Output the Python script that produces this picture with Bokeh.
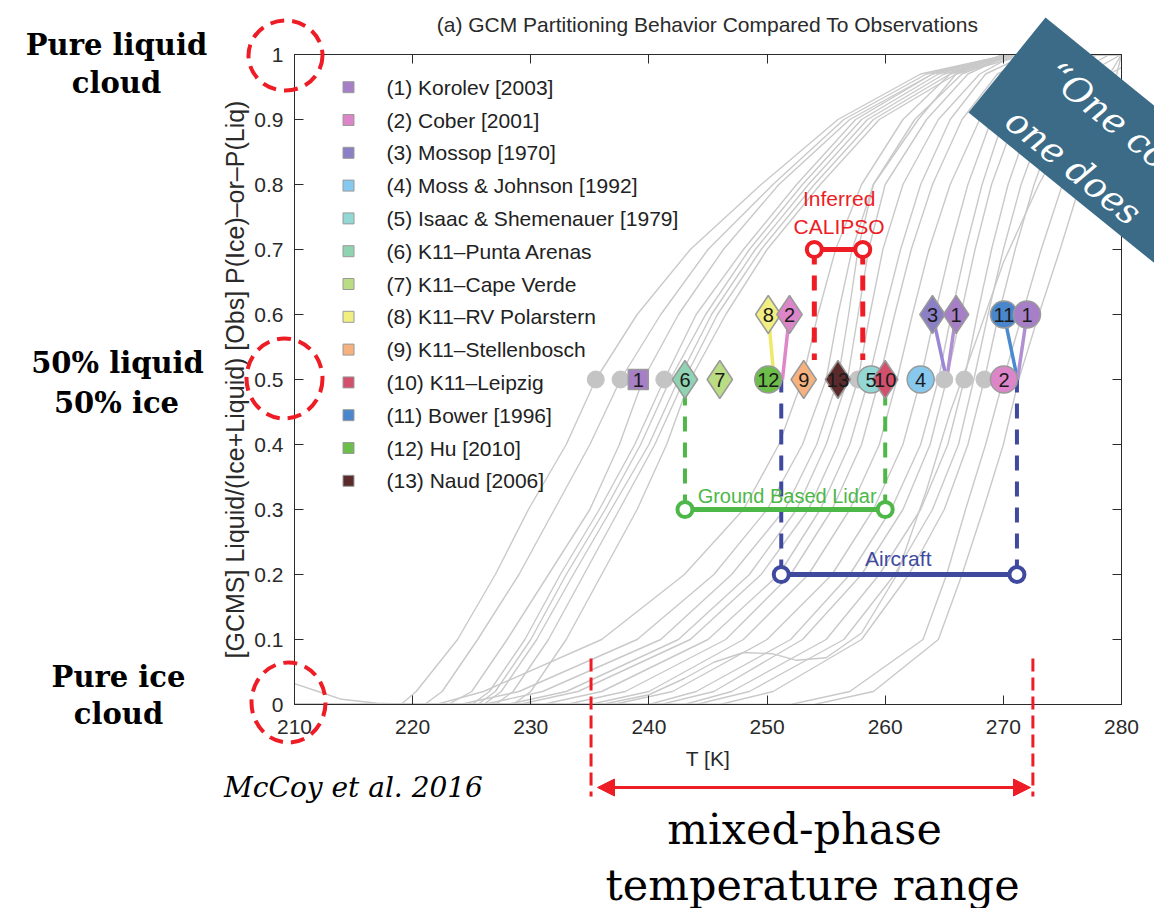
import numpy as np
from bokeh.plotting import figure
from bokeh.layouts import column
from bokeh.models import (Range1d, LinearAxis, FixedTicker, Arrow, NormalHead, CustomJSTickFormatter)
from bokeh.core.properties import value
from bokeh.embed import file_html
from bokeh.resources import INLINE

# ---------------------------------------------------------------- data
TITLE = "(a) GCM Partitioning Behavior Compared To Observations"
X_LABEL = "T [K]"
Y_LABEL = "[GCMS] Liquid/(Ice+Liquid) [Obs] P(Ice)\u2013or\u2013P(Liq)"
X_TICKS = [210, 220, 230, 240, 250, 260, 270, 280]
Y_TICKS = [0, 0.1, 0.2, 0.3, 0.4, 0.5, 0.6, 0.7, 0.8, 0.9, 1]
Y_TICK_LABELS = ["0", "0.1", "0.2", "0.3", "0.4", "0.5", "0.6", "0.7", "0.8", "0.9", "1"]

# GCM curves: temperature (K) at which each model reaches each liquid fraction level
CURVE_LEVELS = [0, 0.02, 0.1, 0.2, 0.3, 0.4, 0.5, 0.6, 0.7, 0.8, 0.9, 0.97, 1.0]
GCM_CURVE_T = [
    [219.0, 220.3, 223.8, 227.0, 229.8, 233.0, 235.5, 239.0, 243.5, 249.5, 256.0, 263.0, 270.5],
    [221.0, 222.5, 225.5, 229.0, 232.0, 235.0, 237.6, 241.0, 245.0, 250.5, 256.5, 263.5, 270.5],
    [223.0, 225.0, 228.0, 231.5, 235.0, 237.5, 239.5, 242.5, 246.3, 251.0, 257.0, 264.0, 270.5],
    [225.0, 226.5, 229.5, 232.5, 235.8, 238.8, 241.3, 244.0, 248.0, 252.5, 257.5, 264.0, 270.5],
    [225.5, 227.0, 230.0, 233.0, 236.3, 239.3, 241.8, 244.8, 248.5, 253.0, 258.0, 264.5, 271.0],
    [226.0, 227.5, 230.5, 233.6, 236.8, 240.0, 242.5, 245.3, 249.0, 253.5, 258.5, 265.0, 271.0],
    [227.0, 228.5, 231.5, 234.5, 237.5, 240.5, 243.0, 245.8, 249.5, 254.0, 259.0, 265.5, 271.5],
    [228.5, 230.0, 233.0, 236.0, 239.0, 241.5, 243.5, 246.5, 250.0, 254.5, 259.5, 266.0, 272.0],
    [222.0, 226.0, 236.0, 243.0, 248.0, 251.0, 253.0, 254.3, 255.8, 258.0, 261.5, 265.5, 270.0],
    [224.0, 229.0, 239.0, 245.5, 250.0, 253.0, 255.0, 256.0, 257.2, 259.0, 262.5, 266.5, 270.5],
    [226.0, 231.0, 241.0, 247.0, 251.5, 254.2, 256.0, 256.9, 257.7, 259.0, 262.8, 266.0, 270.0],
    [228.0, 233.0, 242.5, 248.5, 252.5, 255.0, 256.8, 257.7, 258.6, 260.0, 263.5, 267.0, 270.5],
    [229.0, 234.0, 243.5, 249.5, 253.5, 256.0, 257.7, 258.7, 259.8, 261.5, 264.5, 268.0, 271.0],
    [231.0, 236.0, 245.0, 251.0, 254.5, 257.0, 258.6, 259.9, 261.3, 263.0, 265.5, 268.5, 272.0],
    [233.0, 238.0, 246.5, 252.0, 255.5, 258.0, 259.5, 260.8, 262.2, 264.0, 266.5, 269.5, 273.0],
    [235.0, 240.0, 248.0, 253.5, 257.0, 259.5, 261.0, 262.3, 263.7, 265.5, 268.0, 270.8, 274.0],
    [237.0, 242.0, 250.0, 255.5, 259.0, 261.5, 263.0, 264.2, 265.5, 267.0, 269.0, 271.5, 275.0],
    [240.0, 244.0, 252.0, 257.0, 260.5, 263.0, 264.5, 265.6, 266.8, 268.2, 270.0, 272.5, 276.0],
    [241.0, 245.5, 253.0, 258.0, 261.5, 263.8, 265.2, 266.4, 267.6, 269.0, 271.0, 273.5, 277.0],
    [243.0, 247.0, 255.0, 259.5, 263.0, 265.3, 266.7, 267.8, 269.0, 270.4, 272.3, 274.8, 278.0],
    [244.0, 248.5, 256.5, 260.8, 264.0, 266.2, 267.5, 268.7, 270.0, 271.5, 273.5, 276.0, 279.0],
    [246.0, 250.5, 258.0, 262.0, 265.0, 267.0, 268.4, 269.6, 271.0, 272.6, 274.6, 277.0, 280.0],
    [252.0, 257.0, 263.2, 265.2, 266.8, 268.5, 270.0, 271.6, 273.2, 275.0, 277.2, 279.0, 280.0],
    [254.0, 259.0, 264.5, 266.5, 268.3, 270.0, 271.3, 273.0, 274.8, 276.5, 278.4, 279.6, 280.0],
]
# two irregular model curves
EXTRA_CURVE_T = [
    [210.0, 212.0, 214.0, 217.0, 220.0],
    [236.0, 240.0, 243.0, 245.5, 248.0, 250.5, 252.5, 255.0, 258.0, 261.0, 263.5, 265.5, 267.5, 270.0, 273.0, 276.0, 279.0, 280.0],
]
EXTRA_CURVE_Y = [
    [0.032, 0.020, 0.008, 0.002, 0.0],
    [0.0, 0.015, 0.040, 0.065, 0.080, 0.078, 0.068, 0.072, 0.11, 0.20, 0.33, 0.45, 0.55, 0.68, 0.80, 0.90, 0.97, 0.98],
]

STUDIES = ["(1) Korolev [2003]", "(2) Cober [2001]", "(3) Mossop [1970]",
           "(4) Moss & Johnson [1992]", "(5) Isaac & Shemenauer [1979]",
           "(6) K11\u2013Punta Arenas", "(7) K11\u2013Cape Verde", "(8) K11\u2013RV Polarstern",
           "(9) K11\u2013Stellenbosch", "(10) K11\u2013Leipzig", "(11) Bower [1996]",
           "(12) Hu [2010]", "(13) Naud [2006]"]
STUDY_COLORS = ["#a77fc6", "#dc86c9", "#8b7fc5", "#86c8ee", "#93d8d4", "#8fd3b2", "#badc82",
                "#f1ee82", "#f5b27e", "#d2506c", "#4a86cb", "#6dbd4b", "#5b2b2b"]

# observations (study id, temperature, fraction, marker type)
OBS_ID = [1, 6, 7, 12, 9, 13, 5, 10, 4, 2, 8, 2, 3, 1, 11, 1]
OBS_T = [239.1, 243.05, 246.0, 250.1, 253.1, 256.0, 258.8, 260.0, 263.0, 270.05,
         250.1, 251.9, 264.0, 266.0, 270.05, 272.0]
OBS_Y = [0.5, 0.5, 0.5, 0.5, 0.5, 0.5, 0.5, 0.5, 0.5, 0.5, 0.6, 0.6, 0.6, 0.6, 0.6, 0.6]
OBS_MARKER = ["square", "diamond", "diamond", "circle", "diamond", "diamond", "circle", "diamond",
              "circle", "circle", "diamond", "diamond", "diamond", "diamond", "circle", "circle"]
# leaders from the 0.6 row to the 0.5 row
LEAD_T_TOP = [250.1, 251.9, 264.0, 266.0, 270.05, 272.0]
LEAD_T_BOT = [250.6, 251.3, 265.2, 265.2, 271.2, 271.2]
LEAD_COLORS = ["#efe96a", "#dd88cb", "#9a86d4", "#b08fd2", "#4a8ad0", "#b08fd2"]
# grey GCM points on the 0.5 row
GREY_T = [235.5, 237.6, 241.3, 257.7, 265.0, 266.7, 268.4]

RANGE_NAMES = ["Inferred\nCALIPSO", "Ground Based Lidar", "Aircraft"]
RANGE_LO = [254.0, 243.05, 251.2]
RANGE_HI = [258.1, 260.0, 271.15]
RANGE_Y = [0.7, 0.3, 0.2]
RANGE_COLORS = ["#ee1c25", "#4db848", "#3f4a9e"]

MIXED_RANGE = [235.1, 272.5]
SLIDE_LABELS = [["Pure liquid", "cloud"], ["50% liquid", "50% ice"], ["Pure ice", "cloud"]]
CITATION = "McCoy et al. 2016"
RANGE_CAPTION = ["mixed-phase", "temperature range"]
BANNER_TEXT = ["\u201cOne co", "one does"]

# ---------------------------------------------------------------- geometry
W, H = 1154, 908
BL, BT, FW, FH = 294, 54, 827, 650
BR, BB = W - BL - FW, H - BT - FH
RED = "#ee1c25"
FONT = "Liberation Sans"
SERIF = "DejaVu Serif"


def dx(px):   # page pixel -> chart data x
    return 210 + (px - BL) * 70.0 / FW


def dy(py):   # page pixel -> chart data y
    return 1 - (py - BT) / FH


# ---------------------------------------------------------------- chart figure
p = figure(width=W, height=H, x_range=Range1d(210, 280), y_range=Range1d(0, 1),
           output_backend="svg", toolbar_location=None,
           min_border_left=BL, min_border_right=BR, min_border_top=BT, min_border_bottom=BB)
p.grid.visible = False
p.outline_line_color = "#2b2b2b"

xa, ya = p.xaxis[0], p.yaxis[0]
xa.ticker = FixedTicker(ticks=X_TICKS)
ya.ticker = FixedTicker(ticks=Y_TICKS)
ya.major_label_overrides = {t: s for t, s in zip(Y_TICKS, Y_TICK_LABELS)}
xa.axis_label = X_LABEL
ya.axis_label = Y_LABEL
for a in (xa, ya):
    a.major_tick_in = 9
    a.major_tick_out = 0
    a.minor_tick_line_color = None
    a.axis_line_color = "#2b2b2b"
    a.major_tick_line_color = "#2b2b2b"
    a.major_label_text_font = FONT
    a.major_label_text_font_size = "21px"
    a.major_label_text_color = "#2a2a2a"
    a.axis_label_text_font = FONT
    a.axis_label_text_font_style = "normal"
    a.axis_label_text_color = "#2a2a2a"
xa.major_label_standoff = 15
xa.axis_label_text_font_size = "21px"
xa.axis_label_standoff = 10
ya.major_label_standoff = 11
ya.axis_label_text_font_size = "25px"
ya.axis_label_standoff = 2

for side, tk in (("above", X_TICKS), ("right", Y_TICKS)):
    ax = LinearAxis(ticker=FixedTicker(ticks=tk), formatter=CustomJSTickFormatter(code="return ''"),
                    major_tick_in=9, major_tick_out=0, minor_tick_line_color=None,
                    major_label_standoff=0, axis_line_color="#2b2b2b", major_tick_line_color="#2b2b2b")
    p.add_layout(ax, side)

# GCM curves
xs = [[210] + c + [280] for c in GCM_CURVE_T] + EXTRA_CURVE_T
ys = [[0] + CURVE_LEVELS + [1] for _ in GCM_CURVE_T] + EXTRA_CURVE_Y
p.multi_line(xs, ys, line_color="#c9c9c9", line_width=1.4)

# legend (inside the axes)
ly = [dy(86.7 + 32.8 * i) for i in range(len(STUDIES))]
p.scatter([dx(348)] * len(STUDIES), ly, marker="square", size=11, fill_color=STUDY_COLORS,
          line_color="#9a9a9a", line_width=1)
p.text([dx(386)] * len(STUDIES), ly, text=STUDIES, text_font=value(FONT), text_font_size="21px",
       text_baseline="middle", text_align="left", text_color="#222222")

# observation ranges
for i, (lo, hi, yv, c) in enumerate(zip(RANGE_LO, RANGE_HI, RANGE_Y, RANGE_COLORS)):
    y_end = 0.53 if yv > 0.5 else 0.5
    p.segment([lo, hi], [yv, yv], [lo, hi], [y_end, y_end], line_color=c,
              line_width=5 if i == 0 else 4, line_dash="15 11")
for lo, hi, yv, c in zip(RANGE_LO, RANGE_HI, RANGE_Y, RANGE_COLORS):
    p.segment([lo], [yv], [hi], [yv], line_color=c, line_width=5)
    p.scatter([lo, hi], [yv, yv], marker="circle", size=15, fill_color="white", line_color=c,
              line_width=4)

# leaders
p.segment(LEAD_T_TOP, [0.6] * len(LEAD_T_TOP), LEAD_T_BOT, [0.5] * len(LEAD_T_BOT),
          line_color=LEAD_COLORS, line_width=3.5)

# grey GCM points
p.scatter(GREY_T, [0.5] * len(GREY_T), marker="circle", size=17, fill_color="#c4c4c4",
          line_color="#c4c4c4")

# observation markers
sizes = {"square": 20, "diamond": 38, "circle": 27}
p.scatter(OBS_T, OBS_Y, marker=OBS_MARKER, size=[sizes[m] for m in OBS_MARKER],
          fill_color=[STUDY_COLORS[i - 1] for i in OBS_ID], line_color="#9a9a9a", line_width=1.5)
p.text(OBS_T, OBS_Y, text=[str(i) for i in OBS_ID], text_font=value(FONT), text_font_size="20px",
       text_align="center", text_baseline="middle", text_color="#1a1a1a")

# range labels
cal = RANGE_NAMES[0].split("\n")
p.text([256.1, 256.1], [0.779, 0.736], text=cal, text_font=value(FONT), text_font_size="21px",
       text_align="center", text_baseline="middle", text_color=RANGE_COLORS[0])
p.text([251.7], [0.321], text=[RANGE_NAMES[1]], text_font=value(FONT), text_font_size="20px",
       text_align="center", text_baseline="middle", text_color=RANGE_COLORS[1])
p.text([261.1], [0.224], text=[RANGE_NAMES[2]], text_font=value(FONT), text_font_size="21px",
       text_align="center", text_baseline="middle", text_color=RANGE_COLORS[2])

# ---------------------------------------------------------------- slide overlay (same data coords)
q = figure(width=W, height=H, x_range=Range1d(dx(0), dx(W)), y_range=Range1d(dy(H), dy(0)),
           output_backend="svg", toolbar_location=None, x_axis_type=None, y_axis_type=None,
           min_border=0, min_border_left=0, min_border_right=0, min_border_top=0, min_border_bottom=0)
q.grid.visible = False
q.outline_line_color = None
q.background_fill_alpha = 0
q.border_fill_alpha = 0
for fig in (p, q):
    if "frame_align" in fig.properties():
        fig.frame_align = False

q.text([dx(707)], [dy(24)], text=[TITLE], text_font=value(FONT), text_font_size="21px",
       text_align="center", text_baseline="middle", text_color="#2a2a2a")

slide_pos = [((116, 44), (116, 82)), ((117, 362), (116, 402)), ((118, 676), (118, 713))]
for lines, pos in zip(SLIDE_LABELS, slide_pos):
    q.text([dx(px) for px, _ in pos], [dy(py) for _, py in pos], text=lines,
           text_font=value(SERIF), text_font_style="bold", text_font_size="29px",
           text_align="center", text_baseline="middle", text_color="black")

circ = ((285, 55, 37, 35), (284, 378, 38, 40), (288, 702, 37, 40))
q.ellipse([dx(c[0]) for c in circ], [dy(c[1]) for c in circ],
          width=[2 * c[2] * 70.0 / FW for c in circ], height=[2 * c[3] / FH for c in circ],
          fill_alpha=0, line_color=RED, line_width=4, line_dash="14 8")

q.segment(MIXED_RANGE, [dy(658)] * 2, MIXED_RANGE, [dy(796)] * 2, line_color=RED, line_width=3,
          line_dash="13 6")
q.add_layout(Arrow(start=NormalHead(size=17, fill_color=RED, line_color=RED),
                   end=NormalHead(size=17, fill_color=RED, line_color=RED),
                   x_start=dx(597), y_start=dy(787), x_end=dx(1030), y_end=dy(787),
                   line_color=RED, line_width=3))

q.text([dx(804), dx(812)], [dy(828), dy(884)], text=RANGE_CAPTION, text_font=value(SERIF),
       text_font_size="43px", text_align="center", text_baseline="middle", text_color="black")
q.text([dx(353)], [dy(787)], text=[CITATION], text_font=value(SERIF), text_font_style="italic",
       text_font_size="28px", text_align="center", text_baseline="middle", text_color="black")

# teal quote banner
bx = [1045, 1356, 1279, 968]
by = [17, 269, 364, 112]
q.patch([dx(v) for v in bx], [dy(v) for v in by], fill_color="#3b6b86", line_alpha=0)
ang = -np.deg2rad(39)
q.text([dx(1051), dx(1010)], [dy(69), dy(115)], text=BANNER_TEXT, angle=ang, text_align="left",
       text_baseline="alphabetic", text_font=value(SERIF), text_font_style="italic",
       text_font_size="36px", text_color="white")

q.margin = (-H, 0, 0, 0)
layout = column(p, q, spacing=0)

open("out.html", "w").write(file_html(layout, INLINE))
